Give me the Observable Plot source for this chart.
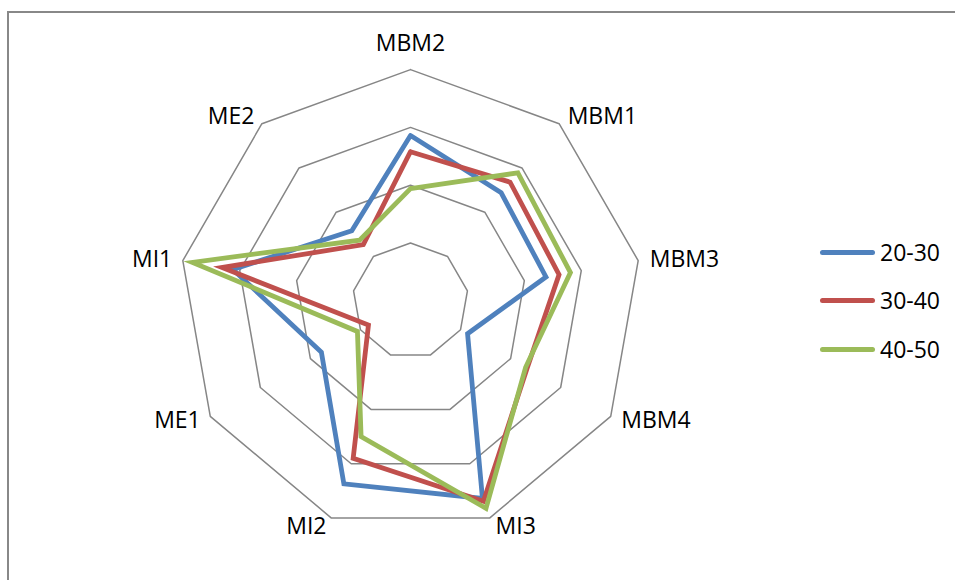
<!DOCTYPE html>
<html>
<head>
<meta charset="utf-8">
<script src="https://cdn.jsdelivr.net/npm/d3@7"></script>
<script src="https://cdn.jsdelivr.net/npm/@observablehq/plot@0.6"></script>
<style>
  html, body { margin: 0; padding: 0; background: #fff; }
  #wrap { position: relative; width: 955px; height: 580px; overflow: hidden; font-family: "Open Sans", sans-serif; }
  #border { position: absolute; left: 7px; top: 11px; right: -10px; bottom: -10px; border-left: 2px solid #888; border-top: 2px solid #888; }
  #chart { position: absolute; left: 0; top: 0; }
  #legend { position: absolute; left: 820px; top: 228px; }
  .item { display: flex; align-items: center; height: 48.5px; }
  .swatch { width: 55px; height: 5px; border-radius: 3px; margin-right: 5px; }
  .lab { font-size: 23px; color: #000; line-height: 1; }
</style>
</head>
<body>
<div id="wrap">
  <div id="border"></div>
  <div id="chart"></div>
  <div id="legend"></div>
</div>
<script>
// ---- data ----
const categories = ["MBM2", "MBM1", "MBM3", "MBM4", "MI3", "MI2", "ME1", "MI1", "ME2"];
const seriesNames = ["20-30", "30-40", "40-50"];
const values2030 = [2.86, 2.44, 2.38, 1.14, 3.64, 3.37, 1.78, 3.12, 1.58];
const values3040 = [2.58, 2.68, 2.61, 2.33, 3.69, 2.90, 0.84, 3.31, 1.27];
const values4050 = [1.94, 2.89, 2.81, 2.30, 3.82, 2.50, 1.06, 3.83, 1.37];
const gridLevels = [1, 2, 3, 4];
const colors = ["#4F81BD", "#C0504D", "#9BBB59"];

// ---- build tables ----
const n = categories.length;
const ang = i => (i % n) * 2 * Math.PI / n;
const px = (r, i) => r * Math.sin(ang(i));
const py = (r, i) => r * Math.cos(ang(i));

const allSeries = [values2030, values3040, values4050];
const lineData = [];
allSeries.forEach((vals, s) => {
  for (let i = 0; i <= n; i++) {
    const v = vals[i % n];
    lineData.push({series: seriesNames[s], x: px(v, i), y: py(v, i)});
  }
});
const gridData = [];
gridLevels.forEach(l => {
  for (let i = 0; i <= n; i++) gridData.push({level: l, x: px(l, i), y: py(l, i)});
});
const maxLevel = d3.max(gridLevels);
const labelR = maxLevel + 0.15;
const labels = categories.map((c, i) => ({name: c, i, s: Math.sin(ang(i))}));
const topLabels = labels.filter(d => Math.abs(d.s) < 0.1);
const rightLabels = labels.filter(d => d.s >= 0.1);
const leftLabels = labels.filter(d => d.s <= -0.1);

const unit = 57.8, cx = 410, cy = 300.3, W = 955, H = 580;

const chart = Plot.plot({
  width: W, height: H,
  margin: 0,
  style: {fontFamily: "Open Sans, sans-serif", background: "transparent"},
  x: {type: "linear", domain: [-cx / unit, (W - cx) / unit], range: [0, W], axis: null},
  y: {type: "linear", domain: [cy / unit, -(H - cy) / unit], range: [0, H], axis: null},
  color: {domain: seriesNames, range: colors},
  marks: [
    Plot.line(gridData, {x: "x", y: "y", z: "level", stroke: "#868686", strokeWidth: 1.5, strokeLinejoin: "miter"}),
    Plot.line(lineData, {x: "x", y: "y", z: "series", stroke: "series", strokeWidth: 4.8, strokeLinejoin: "miter", strokeMiterlimit: 10}),
    Plot.text(topLabels, {x: d => px(maxLevel, d.i), y: d => py(maxLevel, d.i), text: "name", dy: -26, fontSize: 23, fill: "#000", textAnchor: "middle"}),
    Plot.text(rightLabels, {x: d => px(labelR, d.i), y: d => py(labelR, d.i), text: "name", dx: 3, fontSize: 23, fill: "#000", textAnchor: "start"}),
    Plot.text(leftLabels, {x: d => px(labelR, d.i), y: d => py(labelR, d.i), text: "name", dx: -2, fontSize: 23, fill: "#000", textAnchor: "end"})
  ]
});
document.getElementById("chart").appendChild(chart);

// ---- legend ----
const legend = document.getElementById("legend");
seriesNames.forEach((s, k) => {
  const item = document.createElement("div");
  item.className = "item";
  const sw = document.createElement("div");
  sw.className = "swatch";
  sw.style.background = colors[k];
  const lab = document.createElement("span");
  lab.className = "lab";
  lab.textContent = s;
  item.appendChild(sw);
  item.appendChild(lab);
  legend.appendChild(item);
});
</script>
</body>
</html>
